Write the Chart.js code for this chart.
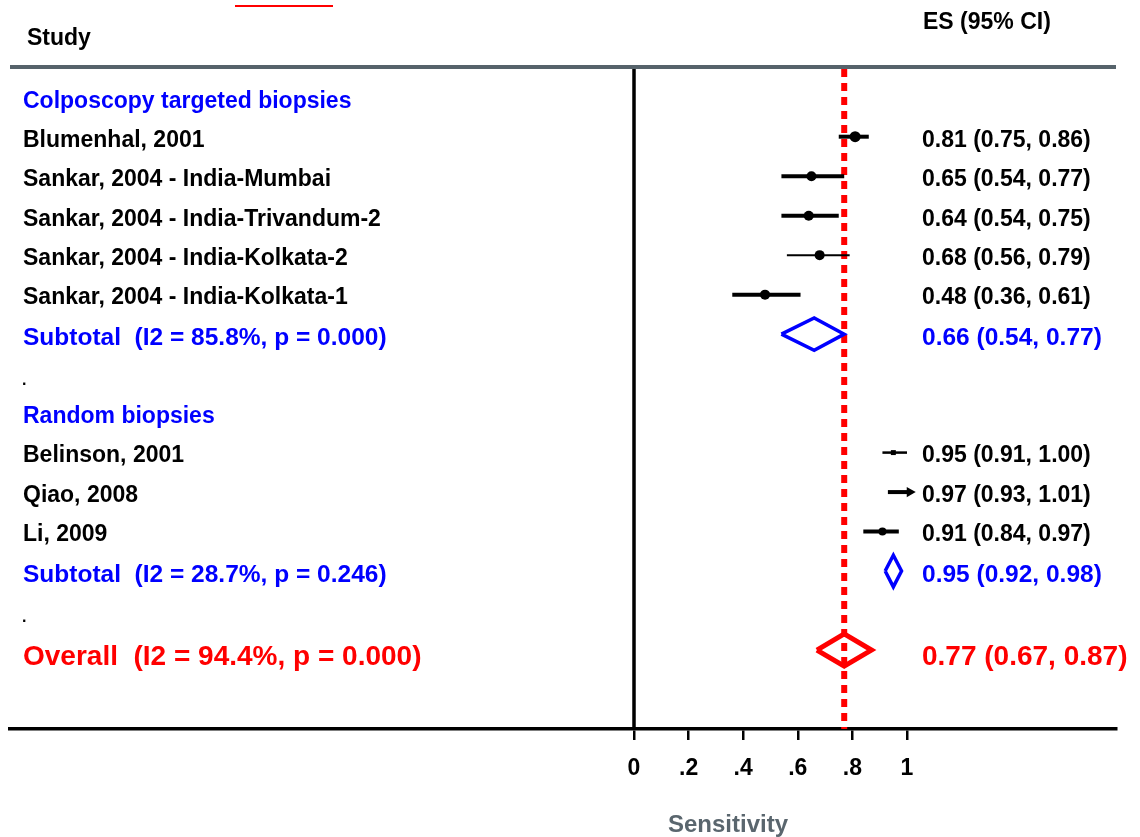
<!DOCTYPE html>
<html>
<head>
<meta charset="utf-8">
<title>Forest plot - Sensitivity</title>
<script src="https://cdn.jsdelivr.net/npm/chart.js@4.4.1/dist/chart.umd.min.js"></script>
<style>
  html, body { margin: 0; padding: 0; background: #fff; }
  canvas { display: block; }
</style>
</head>
<body>
<canvas id="forest" width="1140" height="837"></canvas>
<script>
// data
const groupNames = ['Colposcopy targeted biopsies', 'Random biopsies'];
const groupRows = [0, 8];

const studyNames = [
    'Blumenhal, 2001',
    'Sankar, 2004 - India-Mumbai',
    'Sankar, 2004 - India-Trivandum-2',
    'Sankar, 2004 - India-Kolkata-2',
    'Sankar, 2004 - India-Kolkata-1',
    'Belinson, 2001',
    'Qiao, 2008',
    'Li, 2009'
];
const studyRows = [1, 2, 3, 4, 5, 9, 10, 11];
const studyES = [0.81, 0.65, 0.64, 0.68, 0.48, 0.95, 0.97, 0.91];
const studyLo = [0.75, 0.54, 0.54, 0.56, 0.36, 0.91, 0.93, 0.84];
const studyHi = [0.86, 0.77, 0.75, 0.79, 0.61, 1.00, 1.01, 0.97];

const subLabels = ['Subtotal  (I2 = 85.8%, p = 0.000)', 'Subtotal  (I2 = 28.7%, p = 0.246)'];
const subRows = [6, 12];
const subES = [0.66, 0.95];
const subLo = [0.54, 0.92];
const subHi = [0.77, 0.98];

const blankRows = [7, 13];

const overallLabel = 'Overall  (I2 = 94.4%, p = 0.000)';
const overallRow = 14;
const overallES = [0.77];
const overallLo = [0.67];
const overallHi = [0.87];

const xTicks = [0, 0.2, 0.4, 0.6, 0.8, 1];
const xTickLabels = ['0', '.2', '.4', '.6', '.8', '1'];

// look
const FONT = '"Liberation Sans", Arial, sans-serif';
const BLUE = '#0000ff';
const RED = '#ff0000';
const GREY = '#56636b';
const ciWidths = [4, 4, 4, 2, 4, 2.5, 4, 4];
const dotSizes = [5.5, 5, 5, 5, 5, 3.5, 0, 4];
const dotStyles = ['circle', 'circle', 'circle', 'circle', 'circle', 'rect', 'circle', 'circle'];
const diamondHalf = [0.41, 0.4];
const Y_MIN = -0.765, Y_MAX = 16.0;

function ciText(es, lo, hi) {
    return es.toFixed(2) + ' (' + lo.toFixed(2) + ', ' + hi.toFixed(2) + ')';
}

function diamond(es, lo, hi, row, half) {
    return [
        { x: lo, y: row },
        { x: es, y: row - half },
        { x: hi, y: row },
        { x: es, y: row + half },
        { x: lo, y: row }
    ];
}

const datasets = [];

// confidence interval lines (arrow where the interval runs past 1)
studyNames.forEach((name, i) => {
    const arrow = studyHi[i] > 1;
    datasets.push({
        data: [{ x: studyLo[i], y: studyRows[i] }, { x: studyHi[i], y: studyRows[i] }],
        showLine: true,
        borderColor: '#000',
        borderWidth: ciWidths[i],
        pointRadius: arrow ? [0, 6] : 0,
        pointStyle: 'triangle',
        rotation: 90,
        pointBackgroundColor: '#000',
        pointBorderWidth: 0,
        order: 2
    });
});

// point estimates
datasets.push({
    data: studyES.map((v, i) => ({ x: v, y: studyRows[i] })),
    showLine: false,
    pointRadius: dotSizes,
    pointStyle: dotStyles,
    pointBackgroundColor: '#000',
    pointBorderWidth: 0,
    order: 1
});

// subtotal diamonds
subES.forEach((v, i) => {
    datasets.push({
        data: diamond(v, subLo[i], subHi[i], subRows[i], diamondHalf[i]),
        showLine: true,
        borderColor: BLUE,
        borderWidth: 3.5,
        borderJoinStyle: 'miter',
        pointRadius: 0,
        order: 1
    });
});

// overall diamond
datasets.push({
    data: diamond(overallES[0], overallLo[0], overallHi[0], overallRow, 0.41),
    showLine: true,
    borderColor: RED,
    borderWidth: 5,
    borderJoinStyle: 'miter',
    pointRadius: 0,
    order: 0
});

// line of no effect at zero
datasets.push({
    data: [{ x: 0, y: Y_MIN }, { x: 0, y: Y_MAX }],
    showLine: true,
    borderColor: '#000',
    borderWidth: 3.5,
    pointRadius: 0,
    order: 5
});

// overall estimate reference line
datasets.push({
    data: [{ x: overallES[0], y: Y_MIN + 0.05 }, { x: overallES[0], y: Y_MAX }],
    showLine: true,
    borderColor: RED,
    borderWidth: 6,
    borderDash: [8, 6],
    pointRadius: 0,
    order: 4
});

const textPlugin = {
    id: 'forestText',
    afterDatasetsDraw(chart) {
        const ctx = chart.ctx;
        const y = chart.scales.y;
        const area = chart.chartArea;
        const rowY = r => y.getPixelForValue(r);

        ctx.save();
        // header rule
        ctx.strokeStyle = GREY;
        ctx.lineWidth = 4;
        ctx.beginPath();
        ctx.moveTo(area.left, area.top);
        ctx.lineTo(area.right, area.top);
        ctx.stroke();

        // stray underline from the slide title above
        ctx.strokeStyle = RED;
        ctx.lineWidth = 2;
        ctx.beginPath();
        ctx.moveTo(235, 6);
        ctx.lineTo(333, 6);
        ctx.stroke();

        ctx.textBaseline = 'middle';
        ctx.textAlign = 'left';

        ctx.fillStyle = '#000';
        ctx.font = 'bold 23px ' + FONT;
        ctx.fillText('Study', 27, 39);
        ctx.fillText('ES (95% CI)', 923, 23);

        ctx.fillStyle = BLUE;
        groupNames.forEach((g, i) => ctx.fillText(g, 23, rowY(groupRows[i]) + 4));

        ctx.fillStyle = '#000';
        studyNames.forEach((s, i) => {
            const py = rowY(studyRows[i]) + 3.5;
            ctx.fillText(s, 23, py);
            ctx.fillText(ciText(studyES[i], studyLo[i], studyHi[i]), 922, py);
        });

        ctx.font = 'bold 16px ' + FONT;
        blankRows.forEach(r => ctx.fillText('.', 22, rowY(r) + 7));

        ctx.fillStyle = BLUE;
        ctx.font = 'bold 24.5px ' + FONT;
        subLabels.forEach((s, i) => {
            const py = rowY(subRows[i]) + 4;
            ctx.fillText(s, 23, py);
            ctx.fillText(ciText(subES[i], subLo[i], subHi[i]), 922, py);
        });

        ctx.fillStyle = RED;
        ctx.font = 'bold 28px ' + FONT;
        const oy = rowY(overallRow) + 7;
        ctx.fillText(overallLabel, 23, oy);
        ctx.fillText(ciText(overallES[0], overallLo[0], overallHi[0]), 922, oy);

        // axis title
        ctx.fillStyle = '#5a666e';
        ctx.font = 'bold 24px ' + FONT;
        ctx.textAlign = 'center';
        ctx.fillText('Sensitivity', 728, 825);
        ctx.restore();
    }
};

new Chart(document.getElementById('forest').getContext('2d'), {
    type: 'scatter',
    data: { datasets: datasets },
    options: {
        responsive: false,
        animation: false,
        layout: { padding: { left: 10, right: 24, top: 67, bottom: 0 } },
        plugins: {
            legend: { display: false },
            tooltip: { enabled: false }
        },
        elements: { line: { tension: 0, fill: false } },
        scales: {
            x: {
                type: 'linear',
                min: (10 - 634) / 273,
                max: (1116 - 634) / 273,
                afterBuildTicks(scale) {
                    scale.ticks = xTicks.map(v => ({ value: v }));
                },
                afterFit(scale) {
                    scale.height = 108;
                },
                border: { display: true, color: '#000', width: 3.5 },
                grid: {
                    drawOnChartArea: false,
                    drawTicks: true,
                    tickLength: 11,
                    color: '#000',
                    lineWidth: 2.5
                },
                ticks: {
                    autoSkip: false,
                    maxRotation: 0,
                    padding: 15,
                    color: '#000',
                    font: { family: FONT, size: 23, weight: 'bold' },
                    callback: (v, i) => xTickLabels[i]
                }
            },
            y: {
                type: 'linear',
                display: false,
                reverse: true,
                min: Y_MIN,
                max: Y_MAX
            }
        }
    },
    plugins: [textPlugin]
});
</script>
</body>
</html>
